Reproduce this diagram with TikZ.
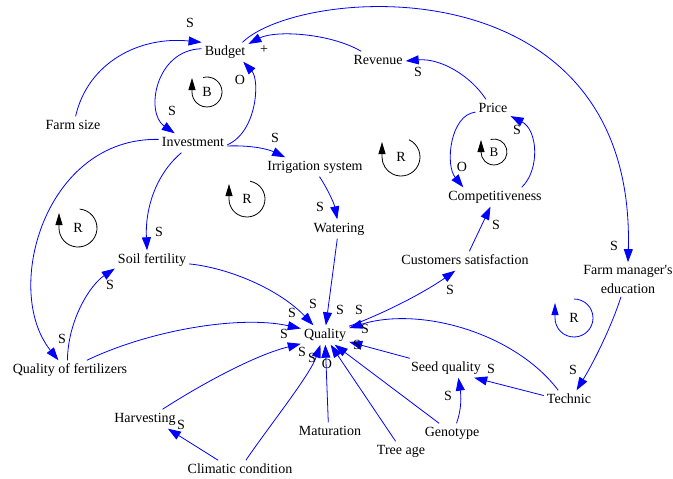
\documentclass[tikz,border=0pt]{standalone}
\usepackage{fontspec}
\setmainfont{Liberation Serif}
\usetikzlibrary{arrows.meta}
\definecolor{linkblue}{RGB}{0,0,255}
\begin{document}
\begin{tikzpicture}[x=1pt,y=-1pt,
  every node/.style={font=\fontsize{14pt}{17pt}\selectfont, inner sep=0pt},
  var/.style={inner sep=3pt, text height=10pt, text depth=3pt, yshift=-2pt},
  link/.style={draw=linkblue, line width=0.8pt, -{Triangle[length=13pt,width=9pt]}},
  pol/.style={text=black},
  loopmark/.style={line width=0.8pt, -{Triangle[length=12pt,width=7pt]}},
]
\useasboundingbox (0,0) rectangle (673,479);

% variables
\node[var] (budget)   at (225,50)  {Budget};
\node[var] (revenue)  at (378,59)  {Revenue};
\node[var] (price)    at (493,107) {Price};
\node[var] (comp)     at (495,195) {Competitiveness};
\node[var] (farmsize) at (73,124)  {Farm size};
\node[var] (invest)   at (193,141) {Investment};
\node[var] (irrig)    at (315,165) {Irrigation system};
\node[var] (water)    at (339,227) {Watering};
\node[var] (soil)     at (152,258) {Soil fertility};
\node[var] (cust)     at (465,259) {Customers satisfaction};
\node[inner sep=3pt, align=center, yshift=-2pt, font=\fontsize{14pt}{19pt}\selectfont] (fme) at (628,277.5) {Farm manager\textquotesingle s\\education};
\node[var] (quality)  at (325,333) {Quality};
\node[var] (qof)      at (70,368)  {Quality of fertilizers};
\node[var] (seed)     at (446,366) {Seed quality};
\node[var] (technic)  at (569,398) {Technic};
\node[var] (harvest)  at (145,417) {Harvesting};
\node[var] (matur)    at (330,430) {Maturation};
\node[var] (geno)     at (452,431) {Genotype};
\node[var] (treeage)  at (401,449) {Tree age};
\node[var] (climatic) at (240,468) {Climatic condition};

% causal links with their polarity
\draw[link] (farmsize.75) .. controls (88,62) and (140,36) .. (budget.north west) node[pol] (p1) at (190,23) {S};
\draw[link] (budget.172) .. controls (155,50) and (145,113) .. (invest.152) node[pol] (p2) at (172,111) {S};
\draw[link] (invest.-3) .. controls (257,132) and (260,80) .. (budget.-28) node[pol] (p3) at (240,80) {O};
\draw[link] (invest.-5) .. controls (250,145) and (268,149) .. (irrig.162) node[pol] (p4) at (275,138) {S};
\draw[link] (irrig.-65) .. controls (327,188) and (334,203) .. (water.100) node[pol] (p5) at (320,207) {S};
\draw[link] (invest.-140) .. controls (155,175) and (145,210) .. (soil.117) node[pol] (p6) at (159,232) {S};
\draw[link] (invest.174) .. controls (45,137) and (2,290) .. (qof.140) node[pol] (p7) at (62,339) {S};
\draw[link] (qof.105) .. controls (68,320) and (90,285) .. (soil.193) node[pol] (p8) at (110,285) {S};
\draw[link] (qof.30) .. controls (150,330) and (240,315) .. (quality.165) node[pol] (p9) at (284,334) {S};
\draw[link] (soil.-6) .. controls (230,268) and (280,290) .. (quality.140) node[pol] (p10) at (292,313) {S};
\draw[link] (water.-100) -- (quality.85) node[pol] (p11) at (313,304) {S};
\draw[link] (quality.20) .. controls (385,313) and (425,292) .. (cust.-135) node[pol] (p12) at (450,290) {S};
\draw[link] (cust.66) -- (comp.-115) node[pol] (p13) at (496,225) {S};
\draw[link] (comp.20) .. controls (540,170) and (538,130) .. (price.-22) node[pol] (p14) at (517,130) {S};
\draw[link] (price.190) .. controls (450,115) and (445,165) .. (comp.163) node[pol] (p15) at (462,167) {O};
\draw[link] (price.126) .. controls (470,75) and (440,58) .. (revenue.east) node[pol] (p16) at (418,72) {S};
\draw[link] (revenue.150) .. controls (330,33) and (275,30) .. (budget.19) node[pol] (p17) at (264,50) {+};
\draw[link] (budget.29) .. controls (300,-14) and (636,-40) .. (fme.north) node[pol] (p18) at (614,246) {S};
\draw[link] (fme.-112) .. controls (612,325) and (595,360) .. (technic.52) node[pol] (p19) at (573,370) {S};
\draw[link] (technic.170) -- (seed.-19) node[pol] (p20) at (491,369) {S};
\draw[link] (technic.138) .. controls (515,333) and (420,306) .. (quality.16) node[pol] (p21) at (365,329) {S};
\draw[link] (seed.165) -- (quality.-16) node[pol] (p22) at (357,345) {S};
\draw[link] (geno.65) .. controls (462,408) and (461,395) .. (seed.-38) node[pol] (p23) at (448,396) {S};
\draw[link] (geno.143) -- (quality.-45) node[pol] (p24) at (359,310) {S};
\draw[link] (treeage.119) -- (quality.-60) node[pol] (p25) at (340,310) {S};
\draw[link] (matur.100) -- (quality.-88) node[pol] (p26) at (327,364) {O};
\draw[link] (climatic.59) .. controls (270,425) and (310,375) .. (quality.-115) node[pol] (p27) at (312,358) {S};
\draw[link] (climatic.156) -- (harvest.-23) node[pol] (p28) at (181,425) {S};
\draw[link] (harvest.29) .. controls (200,385) and (255,355) .. (quality.200) node[pol] (p29) at (302,352) {S};

% loop markers
\draw[loopmark] (207,92) ++(-105:15) arc[start angle=-105, end angle=180, radius=15] -- ++(0,-14);
\node (loopb1) at (207,92) {B};
\draw[loopmark] (247,199) ++(-80:18) arc[start angle=-80, end angle=180, radius=18] -- ++(0,-15);
\node (loopr1) at (247,199) {R};
\draw[loopmark] (401,157) ++(-65:19) arc[start angle=-65, end angle=180, radius=19] -- ++(0,-15);
\node (loopr2) at (401,157) {R};
\draw[loopmark] (494,152) ++(-105:13) arc[start angle=-105, end angle=180, radius=13] -- ++(0,-12);
\node[font=\fontsize{13pt}{15pt}\selectfont] (loopb2) at (494,152) {B};
\draw[loopmark] (78,228) ++(-85:19) arc[start angle=-85, end angle=180, radius=19] -- ++(0,-15);
\node (loopr3) at (78,228) {R};
\draw[loopmark, linkblue] (574,318) ++(-90:19) arc[start angle=-90, end angle=180, radius=19] -- ++(0,-15);
\node (loopr4) at (574,318) {R};
\end{tikzpicture}
\end{document}
